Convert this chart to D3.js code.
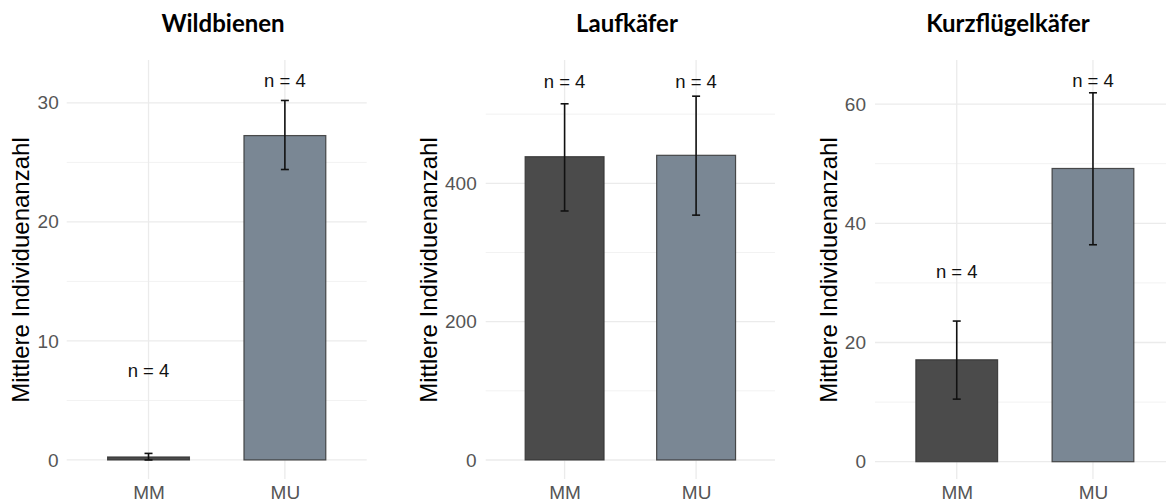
<!DOCTYPE html>
<html><head><meta charset="utf-8">
<script src="https://cdn.jsdelivr.net/npm/d3@7"></script>
<style>body{margin:0;background:#fff} svg text{font-family:"Liberation Sans",Arial,sans-serif}</style>
</head><body>
<script>
// ---- data ----
const panelTitles = ["Wildbienen", "Laufkäfer", "Kurzflügelkäfer"];
const categories = ["MM", "MU"];
const meanValues = [[0.25, 27.25], [438.5, 440.5], [17.1, 49.2]];
const errLow = [[0.0, 24.4], [360, 354], [10.5, 36.4]];
const errHigh = [[0.55, 30.2], [515, 526], [23.6, 61.9]];
const nLabels = [["n = 4", "n = 4"], ["n = 4", "n = 4"], ["n = 4", "n = 4"]];
const nLabelY = [[7.5, 31.9], [547, 547], [31.9, 63.9]];
const majorTicks = [[0, 10, 20, 30], [0, 200, 400], [0, 20, 40, 60]];
const minorTicks = [[5, 15, 25], [100, 300, 500], [10, 30, 50]];
const yDomains = [[-1.6, 33.6], [-27.5, 578.3], [-2.9, 67.4]];
const yTitle = "Mittlere Individuenanzahl";

// ---- layout ----
const W = 1166, H = 503;
const layout = [
  {x0: 66.7, x1: 366.7, titleX: 223, yTitleX: 20, tickGap: 8},
  {x0: 485.7, x1: 775, titleX: 627, yTitleX: 428, tickGap: 9},
  {x0: 875, x1: 1174.7, titleX: 1008, yTitleX: 828, tickGap: 9}
];
const plotTop = 60, plotBottom = 479;
const fills = {MM: "#4b4b4b", MU: "#7a8794"};
const sansFont = "'Liberation Sans', Arial, sans-serif";

const svg = d3.select("body").append("svg").attr("width", W).attr("height", H);

panelTitles.forEach((title, p) => {
  const L = layout[p];
  const x = d3.scalePoint().domain(categories).range([L.x0, L.x1]).padding(0.6);
  const step = x.step();
  const y = d3.scaleLinear().domain(yDomains[p]).range([plotBottom, plotTop]);
  const g = svg.append("g");

  g.selectAll(".minor").data(minorTicks[p]).join("line")
    .attr("x1", L.x0).attr("x2", L.x1).attr("y1", d => y(d)).attr("y2", d => y(d))
    .attr("stroke", "#f2f2f2").attr("stroke-width", 1);
  g.selectAll(".major").data(majorTicks[p]).join("line")
    .attr("x1", L.x0).attr("x2", L.x1).attr("y1", d => y(d)).attr("y2", d => y(d))
    .attr("stroke", "#ebebeb").attr("stroke-width", 1.3);
  g.selectAll(".vgrid").data(categories).join("line")
    .attr("x1", d => x(d)).attr("x2", d => x(d)).attr("y1", plotTop).attr("y2", plotBottom)
    .attr("stroke", "#ebebeb").attr("stroke-width", 1.3);

  const yAxis = d3.axisLeft(y).tickValues(majorTicks[p]).tickSize(0).tickPadding(L.tickGap);
  const ya = g.append("g").attr("transform", `translate(${L.x0},0)`).call(yAxis);
  ya.attr("font-family", null);
  ya.select(".domain").remove();
  ya.selectAll("text").attr("font-size", 19).attr("fill", "#555").style("font-family", sansFont);

  const xAxis = d3.axisBottom(x).tickSize(0).tickPadding(0);
  const xa = g.append("g").attr("transform", `translate(0,${plotBottom + 6})`).call(xAxis);
  xa.attr("font-family", null);
  xa.select(".domain").remove();
  xa.selectAll("text").attr("font-size", 19).attr("fill", "#555").style("font-family", sansFont);

  g.selectAll(".bar").data(categories).join("rect")
    .attr("x", d => x(d) - step * 0.3).attr("width", step * 0.6)
    .attr("y", (d, i) => y(meanValues[p][i]))
    .attr("height", (d, i) => y(0) - y(meanValues[p][i]))
    .attr("fill", d => fills[d]).attr("stroke", "#333").attr("stroke-opacity", 0.85).attr("stroke-width", 1.2);

  const capW = 4;
  categories.forEach((c, i) => {
    const cx = x(c);
    const eg = g.append("g").attr("stroke", "#111").attr("stroke-width", 1.6);
    eg.append("line").attr("x1", cx).attr("x2", cx).attr("y1", y(errLow[p][i])).attr("y2", y(errHigh[p][i]));
    eg.append("line").attr("x1", cx - capW).attr("x2", cx + capW).attr("y1", y(errLow[p][i])).attr("y2", y(errLow[p][i]));
    eg.append("line").attr("x1", cx - capW).attr("x2", cx + capW).attr("y1", y(errHigh[p][i])).attr("y2", y(errHigh[p][i]));
  });

  g.selectAll(".nlab").data(categories).join("text")
    .attr("x", d => x(d)).attr("y", (d, i) => y(nLabelY[p][i]))
    .attr("text-anchor", "middle").attr("dominant-baseline", "central")
    .attr("font-size", 18.5).attr("fill", "#111").style("font-family", sansFont)
    .text((d, i) => nLabels[p][i]);

  g.append("text").attr("transform", `translate(${L.yTitleX},270) rotate(-90)`)
    .attr("text-anchor", "middle").attr("dominant-baseline", "central")
    .attr("font-size", 24).attr("fill", "#000").style("font-family", sansFont).text(yTitle);

  g.append("text").attr("x", L.titleX).attr("y", 32).attr("text-anchor", "middle")
    .style("font-family", "Lato, 'Open Sans', sans-serif").attr("font-weight", "bold")
    .attr("font-size", 24).attr("fill", "#000").text(title);
});
</script>
</body></html>
